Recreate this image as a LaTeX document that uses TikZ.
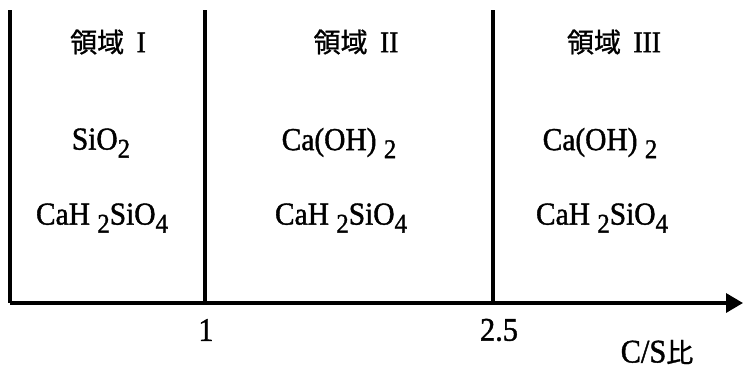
\documentclass[tikz,border=0pt]{standalone}
\usepackage{fontspec}
\setmainfont{Liberation Serif}[FakeBold=1.2,FakeStretch=0.92]
\newfontfamily\cjk{Noto Sans CJK JP}[FakeBold=1]
\usetikzlibrary{arrows.meta}
\newcommand{\chemsub}[1]{\raisebox{-8pt}{\fontsize{27}{27}\selectfont #1}}
\newcommand{\headnum}[1]{{\fontsize{30}{30}\selectfont #1}}
\begin{document}
\begin{tikzpicture}[x=1pt,y=-1pt,
  axisline/.style={line width=3.4pt},
  head/.style={font=\fontsize{27}{27}\selectfont, anchor=center},
  formula/.style={font=\fontsize{32}{32}\selectfont, anchor=center},
  tick/.style={font=\fontsize{33}{33}\selectfont, anchor=center}]
\useasboundingbox (0,0) rectangle (743,372);
\coordinate (o) at (10,303);
\coordinate (ltop) at (10,10);
\coordinate (m1) at (205,303);
\coordinate (m1top) at (205,10);
\coordinate (m2) at (493,303);
\coordinate (m2top) at (493,10);
\coordinate (xend) at (743,303);
\draw[axisline] (ltop) -- (o);
\draw[axisline] (m1top) -- (m1);
\draw[axisline] (m2top) -- (m2);
\draw[axisline,-{Triangle[length=17pt,width=19pt]}] (o) -- (xend);
\node[head] (h1) at (108,42) {{\cjk 領域}\ \ \headnum{I}};
\node[head] (h2) at (356,42) {{\cjk 領域}\ \ \headnum{II}};
\node[head] (h3) at (614,42) {{\cjk 領域}\ \ \headnum{III}};
\node[formula] (a1) at (101,143) {SiO\chemsub{2}};
\node[formula] (b1) at (102,218) {CaH \chemsub{2}SiO\chemsub{4}};
\node[formula] (a2) at (339,143) {Ca(OH) \chemsub{2}};
\node[formula] (b2) at (341,218) {CaH \chemsub{2}SiO\chemsub{4}};
\node[formula] (a3) at (600,143) {Ca(OH) \chemsub{2}};
\node[formula] (b3) at (602,218) {CaH \chemsub{2}SiO\chemsub{4}};
\node[tick] (t1) at (206,330) {1};
\node[tick] (t2) at (499,330) {2.5};
\node[tick] (xl) at (657,352) {C/S{\cjk\fontsize{27}{27}\selectfont 比}};
\end{tikzpicture}
\end{document}
